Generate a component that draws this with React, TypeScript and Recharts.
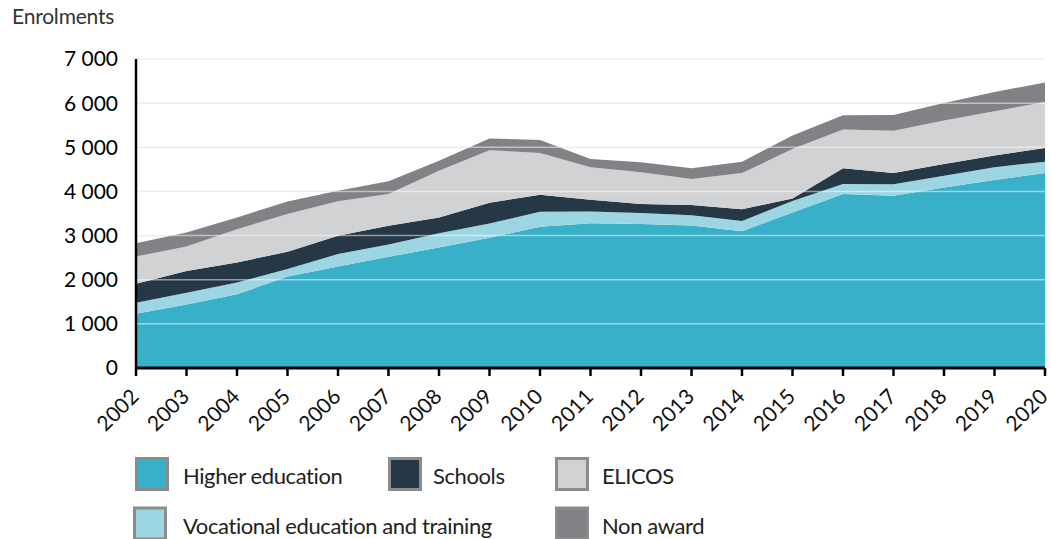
import React from "react";
import { AreaChart, Area, XAxis, YAxis, CartesianGrid, ReferenceLine } from "recharts";

const years = ["2002","2003","2004","2005","2006","2007","2008","2009","2010","2011","2012","2013","2014","2015","2016","2017","2018","2019","2020"];
const higherEd = [1230, 1440, 1670, 2070, 2300, 2520, 2730, 2950, 3200, 3280, 3260, 3230, 3100, 3520, 3940, 3900, 4090, 4260, 4420];
const vet = [250, 265, 265, 170, 280, 280, 325, 325, 340, 265, 250, 230, 230, 265, 230, 265, 265, 290, 255];
const schools = [430, 490, 455, 395, 415, 420, 355, 470, 385, 265, 205, 235, 265, 55, 355, 250, 265, 265, 310];
const elicos = [615, 555, 755, 855, 780, 720, 1060, 1190, 945, 735, 720, 585, 820, 1120, 880, 960, 985, 1000, 1040];
const nonAward = [300, 320, 265, 280, 240, 290, 225, 265, 295, 190, 225, 245, 260, 305, 320, 355, 400, 440, 440];
const yTicks = [0, 1000, 2000, 3000, 4000, 5000, 6000, 7000];

const series = [
  { key: "he", name: "Higher education", color: "#39b0c9", values: higherEd },
  { key: "vet", name: "Vocational education and training", color: "#9dd6e3", values: vet },
  { key: "sch", name: "Schools", color: "#263746", values: schools },
  { key: "eli", name: "ELICOS", color: "#d1d2d4", values: elicos },
  { key: "na", name: "Non award", color: "#808285", values: nonAward },
];

const data = years.map((y, i) => {
  const row: any = { year: y };
  series.forEach((s) => (row[s.key] = s.values[i]));
  return row;
});

const FONT = "Lato, 'Open Sans', sans-serif";

const fmt = (v: number) => (v === 0 ? "0" : `${v / 1000} 000`);

const XTick = (props: any) => {
  const { x, y, payload } = props;
  const tx = x + 4;
  const ty = y + 20;
  return (
    <text x={tx} y={ty} transform={`rotate(-45 ${tx} ${ty})`} textAnchor="end" fontSize={21} fill="#111" fontFamily={FONT}>
      {payload.value}
    </text>
  );
};

const legendItems = [
  { s: series[0], x: 135, y: 457, tx: 183 },
  { s: series[2], x: 388, y: 457, tx: 433 },
  { s: series[3], x: 555, y: 457, tx: 602 },
  { s: series[1], x: 133, y: 506.5, tx: 183 },
  { s: series[4], x: 555, y: 506.5, tx: 602 },
];

export default function App() {
  return (
    <div style={{ position: "absolute", left: 0, top: 0, width: 1052, height: 539, background: "#fff", fontFamily: FONT, overflow: "hidden" }}>
      <div style={{ position: "absolute", left: 12, top: 4, fontSize: 21, color: "#333", lineHeight: "24px", letterSpacing: "-0.2px" }}>Enrolments</div>
      <div style={{ position: "absolute", left: 0, top: 0 }}>
        <AreaChart width={1052} height={450} data={data} margin={{ top: 59, right: 7, left: 0, bottom: 0 }} style={{ fontFamily: FONT }}>
          <CartesianGrid vertical={false} stroke="#d9d9d9" strokeWidth={1.2} horizontalValues={yTicks} />
          {series.map((s) => (
            <Area
              key={s.key}
              dataKey={s.key}
              name={s.name}
              stackId="1"
              type="linear"
              stroke="none"
              fill={s.color}
              fillOpacity={1}
              isAnimationActive={false}
              dot={false}
              activeDot={false}
            />
          ))}
          {yTicks.slice(1).map((t) => (
            <ReferenceLine key={t} y={t} stroke="#ffffff" strokeOpacity={0.5} strokeWidth={1.5} />
          ))}
          <XAxis
            dataKey="year"
            height={82}
            axisLine={{ stroke: "#000", strokeWidth: 3 }}
            tickLine={{ stroke: "#000", strokeWidth: 2.5 }}
            tickSize={8}
            tick={<XTick />}
            interval={0}
          />
          <YAxis
            width={136}
            domain={[0, 7000]}
            ticks={yTicks}
            tickFormatter={fmt}
            axisLine={{ stroke: "#000", strokeWidth: 2.5 }}
            tickLine={false}
            tickSize={0}
            tickMargin={18}
            tick={{ fontSize: 21, fill: "#000", fontFamily: FONT }}
            interval={0}
          />
        </AreaChart>
      </div>
      <svg width={1052} height={539} style={{ position: "absolute", left: 0, top: 0 }}>
        {legendItems.map((it) => (
          <g key={it.s.key}>
            <rect x={it.x + 1.5} y={it.y + 1.5} width={31} height={31} fill={it.s.color} stroke="#8c8c8c" strokeWidth={3} />
            <text x={it.tx} y={it.y + 27} fontSize={22} fill="#222" fontFamily={FONT} letterSpacing={-0.4}>
              {it.s.name}
            </text>
          </g>
        ))}
      </svg>
    </div>
  );
}
